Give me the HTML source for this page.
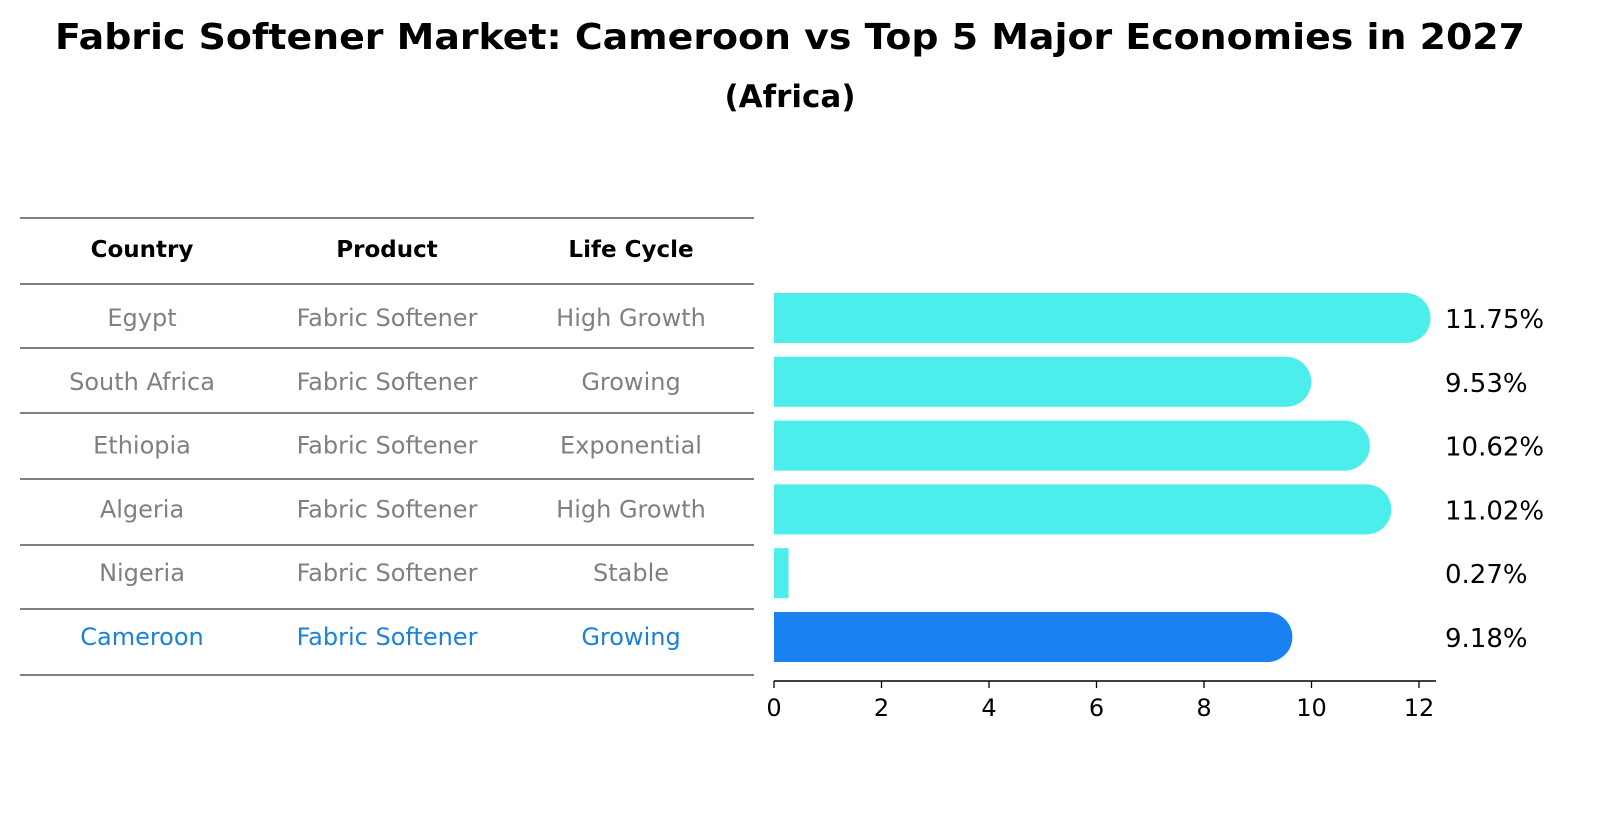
<!DOCTYPE html>
<html><head><meta charset="utf-8"><style>
body{margin:0;background:#fff;font-family:"Liberation Sans","DejaVu Sans",sans-serif}
svg text{font-family:"DejaVu Sans","Liberation Sans",sans-serif}
</style></head><body>
<svg id="chart" width="1604" height="823" viewBox="0 0 1604 823" xmlns="http://www.w3.org/2000/svg">
<text x="790" y="49" text-anchor="middle" font-size="36" font-weight="bold" textLength="1470" lengthAdjust="spacingAndGlyphs">Fabric Softener Market: Cameroon vs Top 5 Major Economies in 2027</text>
<text x="790" y="107" text-anchor="middle" font-size="31" font-weight="bold">(Africa)</text>
<g id="table"></g>
<g id="bars"></g>
<g id="axis"></g>
</svg>
<script>
const countries=["Egypt","South Africa","Ethiopia","Algeria","Nigeria","Cameroon"];
const products=["Fabric Softener","Fabric Softener","Fabric Softener","Fabric Softener","Fabric Softener","Fabric Softener"];
const lifeCycles=["High Growth","Growing","Exponential","High Growth","Stable","Growing"];
const growth=[11.75,9.53,10.62,11.02,0.27,9.18];
const valueLabels=["11.75%","9.53%","10.62%","11.02%","0.27%","9.18%"];
const ticks=[0,2,4,6,8,10,12];
const NS="http://www.w3.org/2000/svg";
function mk(t,a,p){const e=document.createElementNS(NS,t);for(const k in a)e.setAttribute(k,a[k]);p.appendChild(e);return e;}
const x0=774,pxu=53.75;
const xs=v=>x0+v*pxu;
const rowY=i=>318+i*63.8;
const tbl=document.getElementById('table');
const lineYs=[218,284,348,413,479,545,609,675];
lineYs.forEach(y=>{const l=mk('line',{x1:20,x2:754,y1:y,y2:y,stroke:'#000','stroke-width':1},tbl);

});
const colX=[142,387,631];
["Country","Product","Life Cycle"].forEach((h,j)=>{const t=mk('text',{x:colX[j],y:257,'text-anchor':'middle','font-size':23,'font-weight':'bold'},tbl);t.textContent=h;

});
countries.forEach((c,i)=>{const col=i===countries.length-1?'#1a82d8':'#808080';
[c,products[i],lifeCycles[i]].forEach((v,j)=>{const t=mk('text',{x:colX[j],y:rowY(i)+8,'text-anchor':'middle','font-size':24,fill:col},tbl);t.textContent=v;

});});
const bg=document.getElementById('bars');const h=50;
growth.forEach((v,i)=>{const hi=i===growth.length-1;const col=hi?'#1a82f0':'#4beeea';const cy=rowY(i);const xe=xs(v);
const r=mk('rect',{x:x0,y:cy-h/2,width:xe-x0,height:h,fill:col},bg);


if(v>1){const c=mk('circle',{cx:xe,cy:cy,r:h/2,fill:col},bg);

}
const t=mk('text',{x:1445,y:cy+10,'font-size':26},bg);t.textContent=valueLabels[i];

});
const ax=document.getElementById('axis');
const al=mk('line',{x1:x0,x2:1436,y1:681,y2:681,stroke:'#000','stroke-width':1.5},ax);


ticks.forEach(v=>{const tk=mk('line',{x1:xs(v),x2:xs(v),y1:681,y2:688,stroke:'#000','stroke-width':1.3},ax);


const t=mk('text',{x:xs(v),y:716,'text-anchor':'middle','font-size':24},ax);t.textContent=v;

});
</script>
</body></html>
